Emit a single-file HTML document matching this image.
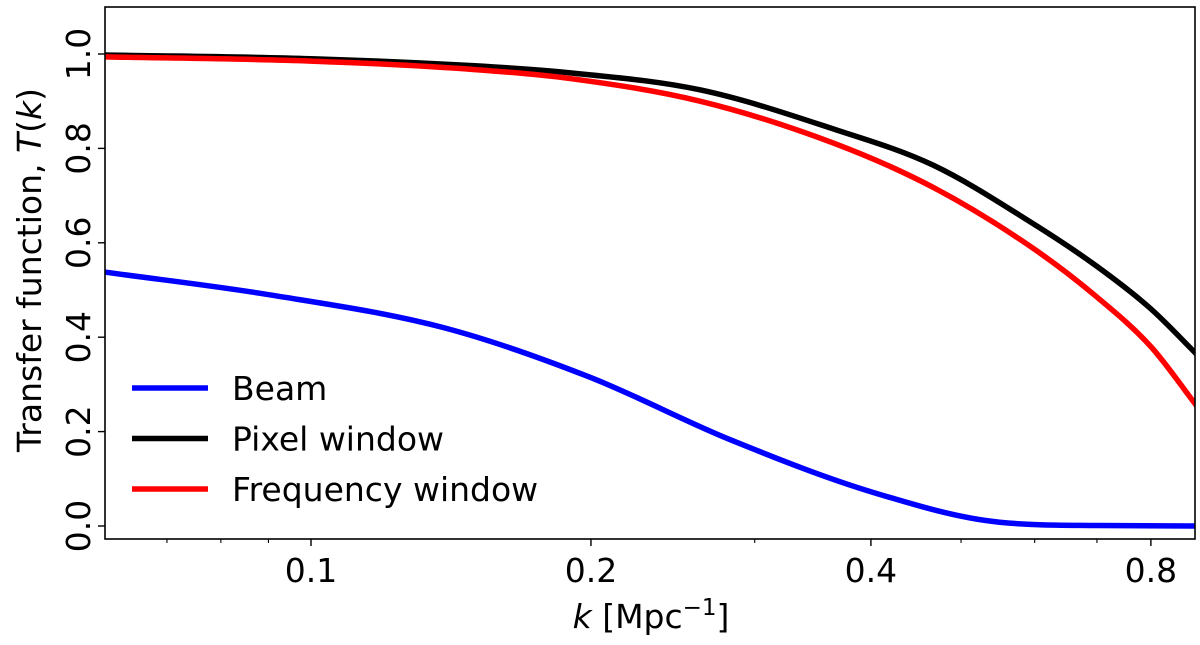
<!DOCTYPE html>
<html><head><meta charset="utf-8"><style>
html,body{margin:0;padding:0;background:#fff}
svg text{font-family:"DejaVu Sans","Liberation Sans",sans-serif;fill:#000}
</style></head><body>
<svg id="chart" width="1200" height="640" viewBox="0 0 1200 640" xmlns="http://www.w3.org/2000/svg">
</svg>
<script>
const beamK = [0.06, 0.0908, 0.139, 0.199, 0.283, 0.404, 0.55, 0.7, 0.898];
const beamT = [0.538, 0.489, 0.42, 0.316, 0.182, 0.07, 0.008, 0.001, 0.0];
const pixelK = [0.06, 0.1, 0.15, 0.19, 0.262, 0.366, 0.466, 0.596, 0.7, 0.8, 0.898];
const pixelT = [0.998, 0.99, 0.975, 0.96, 0.924, 0.84, 0.765, 0.642, 0.55, 0.46, 0.362];
const freqK = [0.06, 0.1, 0.15, 0.19, 0.262, 0.366, 0.466, 0.596, 0.7, 0.8, 0.898];
const freqT = [0.994, 0.985, 0.967, 0.948, 0.90, 0.81, 0.718, 0.59, 0.485, 0.38, 0.252];
const xMajor = [0.1, 0.2, 0.4, 0.8];
const xMajorLabels = ["0.1", "0.2", "0.4", "0.8"];
const xMinor = [0.06, 0.07, 0.08, 0.09, 0.3, 0.5, 0.6, 0.7, 0.9];
const yTicks = [0, 0.2, 0.4, 0.6, 0.8, 1.0];
const yTickLabels = ["0.0", "0.2", "0.4", "0.6", "0.8", "1.0"];
const legendLabels = ["Beam", "Pixel window", "Frequency window"];
const legendColors = ["#0000ff", "#000000", "#ff0000"];

const L = 105, R = 1195, T = 7, B = 539;
const xs = k => 311 + 930 * Math.log10(k / 0.1);
const ys = v => 526 - 472 * v;
const NS = "http://www.w3.org/2000/svg";
const svg = document.getElementById('chart');
function mk(tag, attrs, parent) {
  const e = document.createElementNS(NS, tag);
  for (const a in attrs) e.setAttribute(a, attrs[a]);
  (parent || svg).appendChild(e);
  return e;
}
const defs = mk('defs', {});
const cp = mk('clipPath', {id: 'clip'}, defs);
mk('rect', {x: L, y: T, width: R - L, height: B - T}, cp);

function curve(K, V) {
  const X = K.map(xs), Y = V.map(ys), n = X.length;
  const d = [], m = new Array(n);
  for (let i = 0; i < n - 1; i++) d.push((Y[i + 1] - Y[i]) / (X[i + 1] - X[i]));
  m[0] = d[0]; m[n - 1] = d[n - 2];
  for (let i = 1; i < n - 1; i++) m[i] = (d[i - 1] * d[i] <= 0) ? 0 : (d[i - 1] + d[i]) / 2;
  for (let i = 0; i < n - 1; i++) {
    if (d[i] === 0) { m[i] = 0; m[i + 1] = 0; continue; }
    const a = m[i] / d[i], b = m[i + 1] / d[i], s = a * a + b * b;
    if (s > 9) { const t = 3 / Math.sqrt(s); m[i] = t * a * d[i]; m[i + 1] = t * b * d[i]; }
  }
  let p = `M${X[0]},${Y[0]}`;
  for (let i = 0; i < n - 1; i++) {
    const h = (X[i + 1] - X[i]) / 3;
    p += ` C${X[i] + h},${Y[i] + m[i] * h} ${X[i + 1] - h},${Y[i + 1] - m[i + 1] * h} ${X[i + 1]},${Y[i + 1]}`;
  }
  return p;
}
const series = [[beamK, beamT, 'beam-line'], [pixelK, pixelT, 'pixel-window-line'], [freqK, freqT, 'frequency-window-line']];
const g = mk('g', {'clip-path': 'url(#clip)'});


series.forEach((s, i) => {
  const path = mk('path', {d: curve(s[0], s[1]), fill: 'none', stroke: legendColors[i], 'stroke-width': 5.5, 'stroke-linejoin': 'round'}, g);
  
  
});
const frame = mk('rect', {x: L, y: T, width: R - L, height: B - T, fill: 'none', stroke: '#000', 'stroke-width': 1.6});


xMajor.forEach((k, i) => {
  const x = xs(k);
  const t = mk('line', {x1: x, x2: x, y1: B, y2: B + 7, stroke: '#000', 'stroke-width': 1.4});
  
  
  const lb = mk('text', {x: x, y: B + 43, 'font-size': 33, 'text-anchor': 'middle'});
  lb.textContent = xMajorLabels[i];
  
  
});
xMinor.forEach(k => {
  const x = xs(k);
  if (x < L || x > R) return;
  const t = mk('line', {x1: x, x2: x, y1: B, y2: B + 4, stroke: '#000', 'stroke-width': 1.1});
  
  
});
yTicks.forEach((v, i) => {
  const y = ys(v);
  const t = mk('line', {x1: L - 7, x2: L, y1: y, y2: y, stroke: '#000', 'stroke-width': 1.4});
  
  
  const lb = mk('text', {x: 0, y: 0, 'font-size': 33, 'text-anchor': 'middle', transform: `translate(${L - 15},${y}) rotate(-90)`});
  lb.textContent = yTickLabels[i];
  
  
});
const xt = mk('text', {x: 651, y: 628, 'font-size': 33, 'text-anchor': 'middle'});
xt.innerHTML = '<tspan font-style="italic">k</tspan> [Mpc<tspan dy="-13" font-size="23">−1</tspan><tspan dy="13">]</tspan>';


const yt = mk('text', {x: 0, y: 0, 'font-size': 33, 'text-anchor': 'middle', transform: 'translate(41,270) rotate(-90)'});
yt.innerHTML = 'Transfer function, <tspan font-style="italic">T</tspan>(<tspan font-style="italic">k</tspan>)';


const lg = mk('g', {});


legendLabels.forEach((s, i) => {
  const y = 388 + i * 50.5;
  const ln = mk('line', {x1: 132, x2: 208, y1: y, y2: y, stroke: legendColors[i], 'stroke-width': 5.5}, lg);
  
  
  const tx = mk('text', {x: 232, y: y + 12, 'font-size': 33}, lg);
  tx.textContent = s;
  
  
});
</script>
</body></html>
